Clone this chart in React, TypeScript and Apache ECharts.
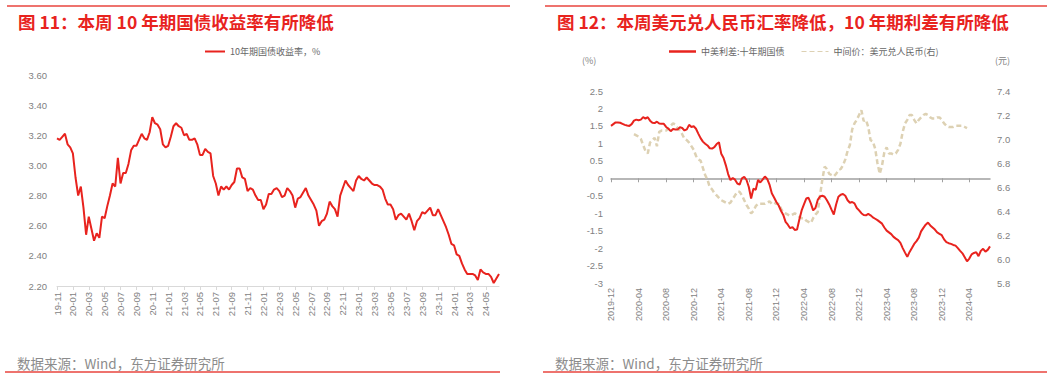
import React, { useEffect, useRef } from "react";
import * as echarts from "echarts";

// ---------- helpers for the date categories (3 samples per month: 1st, 11th, 21st) ----------
function buildDates(y0: number, m0: number, count: number): string[] {
  const out: string[] = [];
  let y = y0;
  let m = m0;
  const days = ["01", "11", "21"];
  while (out.length < count) {
    for (const d of days) {
      if (out.length < count) out.push(`${y}-${String(m).padStart(2, "0")}-${d}`);
    }
    m++;
    if (m > 12) {
      m = 1;
      y++;
    }
  }
  return out;
}

// ---------- data: chart 11 (10Y CGB yield, %) ----------
const leftDates = buildDates(2019, 11, 168);
const leftYield = [
  3.18, 3.17, 3.19, 3.21, 3.14, 3.12, 3.08, 2.92, 2.80, 2.86,
  2.72, 2.54, 2.66, 2.58, 2.50, 2.55, 2.52, 2.66, 2.65, 2.73,
  2.80, 2.88, 2.86, 3.05, 2.88, 2.95, 2.95, 3.01, 3.10, 3.13,
  3.13, 3.17, 3.21, 3.18, 3.17, 3.22, 3.32, 3.28, 3.27, 3.24,
  3.14, 3.12, 3.13, 3.19, 3.26, 3.28, 3.26, 3.25, 3.20, 3.21,
  3.17, 3.17, 3.18, 3.14, 3.07, 3.07, 3.11, 3.09, 3.08, 2.93,
  2.88, 2.80, 2.86, 2.84, 2.86, 2.84, 2.87, 2.89, 2.98, 2.98,
  2.92, 2.91, 2.83, 2.85, 2.84, 2.80, 2.77, 2.77, 2.71, 2.74,
  2.81, 2.81, 2.84, 2.85, 2.83, 2.79, 2.80, 2.85, 2.83, 2.80,
  2.72, 2.78, 2.79, 2.82, 2.85, 2.80, 2.77, 2.74, 2.70, 2.60,
  2.63, 2.64, 2.68, 2.76, 2.73, 2.71, 2.66, 2.80, 2.85, 2.90,
  2.87, 2.85, 2.83, 2.90, 2.93, 2.91, 2.90, 2.92, 2.90, 2.88,
  2.87, 2.87, 2.86, 2.84, 2.78, 2.74, 2.74, 2.71, 2.64, 2.67,
  2.68, 2.66, 2.64, 2.68, 2.63, 2.57, 2.63, 2.65, 2.69, 2.68,
  2.70, 2.72, 2.67, 2.67, 2.71, 2.67, 2.63, 2.59, 2.54, 2.48,
  2.47, 2.41, 2.40, 2.35, 2.31, 2.28, 2.28, 2.28, 2.27, 2.24,
  2.31, 2.29, 2.28, 2.28, 2.26, 2.22, 2.25, 2.28,
];

// ---------- data: chart 12 (China-US 10Y spread, %, and USD/CNY central parity) ----------
const rightDates = buildDates(2019, 12, 166);
const spread = [
  1.50, 1.55, 1.60, 1.60, 1.59, 1.56, 1.53, 1.51, 1.50, 1.55,
  1.65, 1.68, 1.66, 1.68, 1.75, 1.71, 1.75, 1.65, 1.59, 1.58,
  1.62, 1.57, 1.56, 1.56, 1.47, 1.42, 1.35, 1.41, 1.40, 1.40,
  1.46, 1.44, 1.37, 1.40, 1.53, 1.47, 1.49, 1.42, 1.28, 1.15,
  1.05, 0.99, 0.94, 0.86, 0.85, 0.89, 0.98, 1.03, 0.70, 0.58,
  0.37, 0.12, -0.05, 0.01, -0.04, -0.15, -0.18, 0.00, 0.04, -0.05,
  -0.25, -0.58, -0.30, -0.33, -0.05, -0.12, -0.04, 0.05, -0.02, -0.18,
  -0.43, -0.55, -0.68, -0.78, -0.93, -1.05, -1.25, -1.33, -1.43, -1.40,
  -1.48, -1.47, -1.18, -0.92, -0.75, -0.58, -0.56, -0.72, -0.92, -0.85,
  -0.62, -0.52, -0.50, -0.53, -0.63, -0.75, -0.90, -1.04, -0.75, -0.53,
  -0.47, -0.45, -0.50, -0.63, -0.70, -0.68, -0.72, -0.85, -0.92, -1.00,
  -1.05, -1.06, -1.02, -1.06, -1.12, -1.16, -1.20, -1.25, -1.30, -1.41,
  -1.50, -1.55, -1.60, -1.68, -1.73, -1.77, -1.85, -2.00, -2.13, -2.25,
  -2.11, -2.00, -1.88, -1.80, -1.70, -1.52, -1.42, -1.33, -1.27, -1.35,
  -1.41, -1.47, -1.55, -1.59, -1.63, -1.75, -1.83, -1.86, -1.88, -1.91,
  -1.93, -2.00, -2.08, -2.15, -2.26, -2.38, -2.30, -2.18, -2.14, -2.12,
  -2.23, -2.08, -2.02, -2.10, -2.05, -1.95,
];
const cnyMid = [
  null, null, null, null, null, null, null, null, null, null,
  7.04, 7.03, 7.02, 7.00, 6.95, 6.90, 6.88, 6.97, 6.99, 7.01,
  6.94, 7.06, 7.07, 7.07, 7.07, 7.09, 7.11, 7.13, 7.12, 7.09,
  7.07, 7.04, 7.00, 6.99, 6.97, 6.94, 6.91, 6.86, 6.83, 6.82,
  6.76, 6.70, 6.66, 6.60, 6.58, 6.55, 6.53, 6.51, 6.49, 6.48,
  6.47, 6.46, 6.47, 6.50, 6.53, 6.56, 6.56, 6.53, 6.49, 6.45,
  6.42, 6.38, 6.40, 6.44, 6.46, 6.46, 6.46, 6.46, 6.47, 6.48,
  6.46, 6.47, 6.46, 6.46, 6.42, 6.39, 6.38, 6.37, 6.36, 6.37,
  6.38, 6.37, 6.35, 6.34, 6.34, 6.32, 6.31, 6.30, 6.34, 6.37,
  6.39, 6.53, 6.66, 6.77, 6.75, 6.71, 6.70, 6.69, 6.71, 6.74,
  6.75, 6.78, 6.83, 6.90, 6.95, 7.08, 7.13, 7.16, 7.20, 7.24,
  7.15, 7.16, 7.10, 6.99, 6.98, 6.92, 6.80, 6.71, 6.78, 6.89,
  6.93, 6.88, 6.88, 6.87, 6.88, 6.91, 6.96, 7.06, 7.13, 7.16,
  7.20, 7.20, 7.16, 7.13, 7.16, 7.18, 7.20, 7.21, 7.20, 7.18,
  7.17, 7.17, 7.18, 7.18, 7.16, 7.13, 7.11, 7.10, 7.10, 7.10,
  7.11, 7.11, 7.11, 7.11, 7.10, 7.09, null, null, null, null,
  null, null, null, null, null, null,
];

const leftSeriesName = "10年期国债收益率，%";
const spreadName = "中美利差:十年期国债";
const cnyName = "中间价：美元兑人民币(右)";
const leftTitle = "图 11：本周 10 年期国债收益率有所降低";
const rightTitle = "图 12：本周美元兑人民币汇率降低，10 年期利差有所降低";
const sourceText = "数据来源：Wind，东方证券研究所";

const RED = "#E8231E";
const BEIGE = "#DDD1B3";
const LABEL = "#7F7F7F";
const FONT = "'Liberation Sans', 'Noto Sans CJK SC', sans-serif";
const CJK = "'Noto Sans CJK SC', 'Liberation Sans', sans-serif";
const DASH_ICON = "path://M0,0h5v1h-5zM8,0h5v1h-5zM16,0h5v1h-5zM24,0h3v1h-3z";

function textEl(text: string, x: number, y: number, size: number, color: string, weight = "normal") {
  return {
    type: "text",
    x,
    y,
    silent: true,
    style: {
      text,
      fill: color,
      fontSize: size,
      fontWeight: weight,
      fontFamily: CJK,
      textAlign: "left",
      align: "left",
      textVerticalAlign: "middle",
      verticalAlign: "middle",
    },
  };
}

function hLine(x1: number, x2: number, y: number) {
  return {
    type: "line",
    silent: true,
    shape: { x1, y1: y, x2, y2: y },
    style: { stroke: "#E8453E", lineWidth: 1.5 },
  };
}

export default function App() {
  const ref = useRef<HTMLDivElement>(null);

  useEffect(() => {
    if (!ref.current) return;
    const chart = echarts.init(ref.current, null, { renderer: "svg" });
    const option: any = {
      animation: false,
      backgroundColor: "#ffffff",
      textStyle: { fontFamily: FONT },
      graphic: [
        hLine(7, 510, 6),
        hLine(545, 1047, 6),
        hLine(5, 500, 372),
        hLine(543, 1047, 372),
        textEl(leftTitle, 18, 21.5, 17.5, RED, "bold"),
        textEl(rightTitle, 557, 21.5, 17.5, RED, "bold"),
        textEl(sourceText, 17, 363, 13.5, "#8C8C8C"),
        textEl(sourceText, 555, 363, 13.5, "#8C8C8C"),
        textEl("(%)", 582, 60, 9, LABEL),
        textEl("(元)", 995, 60, 9, LABEL),
      ],
      legend: [
        {
          data: [{ name: leftSeriesName, icon: "rect" }],
          left: 205,
          top: 47,
          padding: 0,
          itemWidth: 20,
          itemHeight: 2,
          textStyle: { fontSize: 9, color: "#666666", fontFamily: CJK },
        },
        {
          data: [
            { name: spreadName, icon: "rect" },
            { name: cnyName, icon: DASH_ICON },
          ],
          left: 669,
          top: 47,
          padding: 0,
          itemWidth: 27,
          itemHeight: 2.5,
          itemGap: 17,
          textStyle: { fontSize: 9, color: "#666666", fontFamily: CJK },
        },
      ],
      grid: [
        { left: 57, right: 562, top: 75, bottom: 93, containLabel: false, outerBoundsMode: "none" },
        { left: 611, right: 71, top: 91, bottom: 96, containLabel: false, outerBoundsMode: "none" },
      ],
      xAxis: [
        {
          gridIndex: 0,
          type: "category",
          data: leftDates,
          boundaryGap: false,
          axisLine: { lineStyle: { color: "#D9D9D9", width: 1 } },
          axisTick: { interval: 5, length: 4, lineStyle: { color: "#D9D9D9" } },
          axisLabel: {
            interval: 5,
            rotate: 90,
            margin: 6,
            fontSize: 9.5,
            color: LABEL,
            fontFamily: FONT,
            formatter: (v: string) => v.slice(2, 7),
          },
          splitLine: { show: false },
        },
        {
          gridIndex: 1,
          type: "category",
          data: rightDates,
          boundaryGap: false,
          position: "bottom",
          axisLine: { onZero: true, lineStyle: { color: "#A0A0A0", width: 1.5 } },
          axisTick: { interval: 11, length: 4, lineStyle: { color: "#A0A0A0" } },
          axisLabel: { show: false },
          splitLine: { show: false },
        },
        {
          gridIndex: 1,
          type: "category",
          data: rightDates,
          boundaryGap: false,
          position: "bottom",
          axisLine: { show: false, onZero: false },
          axisTick: { show: false },
          axisLabel: {
            interval: 11,
            rotate: 90,
            margin: 5,
            fontSize: 9,
            color: LABEL,
            fontFamily: FONT,
            formatter: (v: string) => v.slice(0, 7),
          },
          splitLine: { show: false },
        },
      ],
      yAxis: [
        {
          gridIndex: 0,
          type: "value",
          min: 2.2,
          max: 3.6,
          interval: 0.2,
          axisLine: { show: false },
          axisTick: { show: false },
          splitLine: { show: false },
          axisLabel: {
            margin: 10,
            fontSize: 9.5,
            color: LABEL,
            fontFamily: FONT,
            formatter: (v: number) => v.toFixed(2),
          },
        },
        {
          gridIndex: 1,
          type: "value",
          position: "left",
          min: -3,
          max: 2.5,
          interval: 0.5,
          axisLine: { show: false },
          axisTick: { show: false },
          splitLine: { show: false },
          axisLabel: { margin: 8, fontSize: 9.5, color: LABEL, fontFamily: FONT },
        },
        {
          gridIndex: 1,
          type: "value",
          position: "right",
          min: 5.8,
          max: 7.4,
          interval: 0.2,
          axisLine: { show: false },
          axisTick: { show: false },
          splitLine: { show: false },
          axisLabel: {
            margin: 7,
            fontSize: 9.5,
            color: LABEL,
            fontFamily: FONT,
            formatter: (v: number) => v.toFixed(1),
          },
        },
      ],
      series: [
        {
          name: leftSeriesName,
          type: "line",
          xAxisIndex: 0,
          yAxisIndex: 0,
          data: leftYield,
          symbol: "none",
          lineStyle: { color: RED, width: 2 },
          itemStyle: { color: RED },
        },
        {
          name: cnyName,
          type: "line",
          xAxisIndex: 1,
          yAxisIndex: 2,
          data: cnyMid,
          symbol: "none",
          connectNulls: false,
          lineStyle: { color: BEIGE, width: 2.5, type: [5, 3] },
          itemStyle: { color: BEIGE },
        },
        {
          name: spreadName,
          type: "line",
          xAxisIndex: 1,
          yAxisIndex: 1,
          data: spread,
          symbol: "none",
          lineStyle: { color: RED, width: 2 },
          itemStyle: { color: RED },
        },
      ],
    };
    chart.setOption(option);
    return () => chart.dispose();
  }, []);

  return (
    <div
      ref={ref}
      style={{ position: "fixed", left: 0, top: 0, width: 1061, height: 379, background: "#ffffff" }}
    />
  );
}
